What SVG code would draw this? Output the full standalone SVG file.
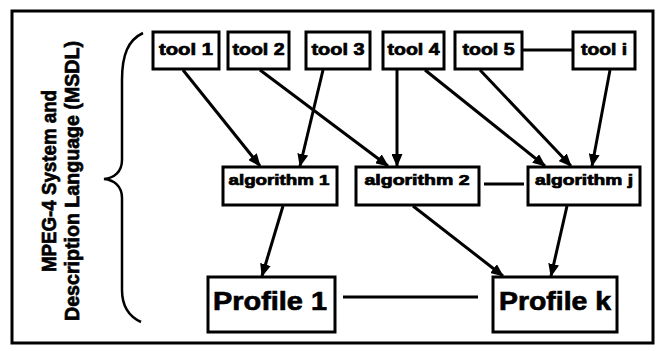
<svg xmlns="http://www.w3.org/2000/svg" width="665" height="351" viewBox="0 0 665 351">
<style>
.box{fill:#fff;stroke:#000;stroke-width:3}
.t{font-family:"Liberation Sans",Arial,sans-serif;font-weight:bold;fill:#000;stroke:#000;stroke-width:0.7}
.e{stroke:#000;stroke-width:3;fill:none}
</style>
<defs>
<marker id="ah" markerWidth="13" markerHeight="11" refX="12" refY="5.5" orient="auto" markerUnits="userSpaceOnUse">
<path d="M0,0 L13,5.5 L0,11 Z" fill="#000"/>
</marker>
</defs>
<rect x="0" y="0" width="665" height="351" fill="#fff"/>
<rect x="12" y="11" width="641" height="332" fill="none" stroke="#000" stroke-width="3"/>
<g id="label">
<text class="t" font-size="21" transform="translate(56,181) rotate(-90)" text-anchor="middle" textLength="182" lengthAdjust="spacingAndGlyphs">MPEG-4 System and</text>
<text class="t" font-size="21" transform="translate(79,181) rotate(-90)" text-anchor="middle" textLength="280" lengthAdjust="spacingAndGlyphs">Description Language (MSDL)</text>
<path d="M143,33 C128,40 122,55 122,80 L122,160 C122,172 114,178 104,179 C114,180 122,186 122,198 L122,290 C122,305 128,316 141,322" fill="none" stroke="#000" stroke-width="2.5"/>
</g>
<g id="connectors">
<line class="e" x1="183" y1="70" x2="260" y2="166" marker-end="url(#ah)"/>
<line class="e" x1="323" y1="70" x2="300" y2="166" marker-end="url(#ah)"/>
<line class="e" x1="260" y1="70" x2="388" y2="166" marker-end="url(#ah)"/>
<line class="e" x1="397" y1="70" x2="397" y2="166" marker-end="url(#ah)"/>
<line class="e" x1="425" y1="70" x2="545" y2="166" marker-end="url(#ah)"/>
<line class="e" x1="480" y1="70" x2="571" y2="166" marker-end="url(#ah)"/>
<line class="e" x1="610" y1="70" x2="592" y2="166" marker-end="url(#ah)"/>
<line class="e" x1="283" y1="206" x2="262" y2="276" marker-end="url(#ah)"/>
<line class="e" x1="413" y1="206" x2="503" y2="276" marker-end="url(#ah)"/>
<line class="e" x1="567" y1="206" x2="551" y2="276" marker-end="url(#ah)"/>
<line class="e" x1="522" y1="50" x2="573" y2="50"/>
<line class="e" x1="484" y1="184" x2="524" y2="184"/>
<line class="e" x1="343" y1="297" x2="478" y2="297"/>
</g>
<g id="tool1"><rect class="box" x="153" y="32" width="66" height="37"/><text class="t" x="186" y="55" font-size="16" text-anchor="middle" textLength="54" lengthAdjust="spacingAndGlyphs">tool 1</text></g>
<g id="tool2"><rect class="box" x="228" y="32" width="61" height="37"/><text class="t" x="258.5" y="55" font-size="16" text-anchor="middle" textLength="52" lengthAdjust="spacingAndGlyphs">tool 2</text></g>
<g id="tool3"><rect class="box" x="306" y="32" width="64" height="37"/><text class="t" x="338" y="55" font-size="16" text-anchor="middle" textLength="53" lengthAdjust="spacingAndGlyphs">tool 3</text></g>
<g id="tool4"><rect class="box" x="383" y="32" width="61" height="37"/><text class="t" x="413.5" y="55" font-size="16" text-anchor="middle" textLength="52" lengthAdjust="spacingAndGlyphs">tool 4</text></g>
<g id="tool5"><rect class="box" x="455" y="32" width="67" height="37"/><text class="t" x="488.5" y="55" font-size="16" text-anchor="middle" textLength="52" lengthAdjust="spacingAndGlyphs">tool 5</text></g>
<g id="tooli"><rect class="box" x="573" y="32" width="62" height="37"/><text class="t" x="604" y="55" font-size="16" text-anchor="middle" textLength="46" lengthAdjust="spacingAndGlyphs">tool i</text></g>
<g id="alg1"><rect class="box" x="223" y="167" width="114" height="38"/><text class="t" x="279" y="185" font-size="14" text-anchor="middle" textLength="101" lengthAdjust="spacingAndGlyphs">algorithm 1</text></g>
<g id="alg2"><rect class="box" x="356" y="167" width="123" height="38"/><text class="t" x="417" y="185" font-size="14" text-anchor="middle" textLength="105" lengthAdjust="spacingAndGlyphs">algorithm 2</text></g>
<g id="algj"><rect class="box" x="528" y="167" width="112" height="38"/><text class="t" x="584" y="185" font-size="14" text-anchor="middle" textLength="98" lengthAdjust="spacingAndGlyphs">algorithm j</text></g>
<g id="profile1"><rect class="box" x="208" y="277" width="127" height="55"/><text class="t" x="270" y="310" font-size="26" text-anchor="middle" textLength="114" lengthAdjust="spacingAndGlyphs">Profile 1</text></g>
<g id="profilek"><rect class="box" x="493" y="277" width="124" height="55"/><text class="t" x="555" y="310" font-size="26" text-anchor="middle" textLength="112" lengthAdjust="spacingAndGlyphs">Profile k</text></g>
</svg>
